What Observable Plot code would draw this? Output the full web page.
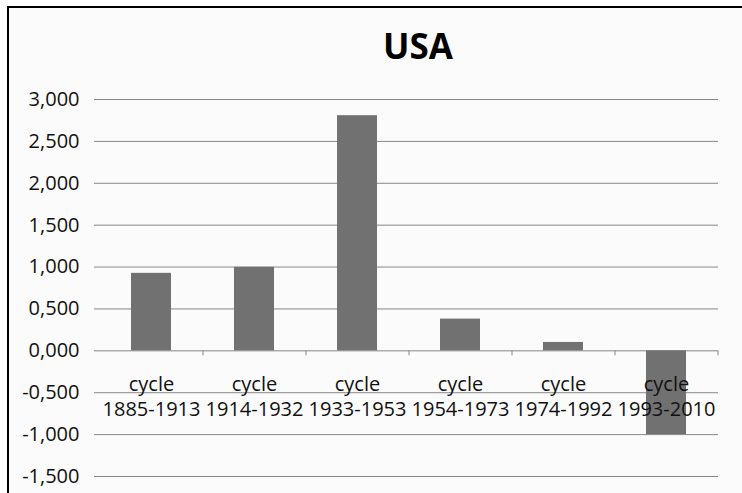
<!DOCTYPE html>
<html>
<head>
<meta charset="utf-8">
<script src="https://cdn.jsdelivr.net/npm/d3@7"></script>
<script src="https://cdn.jsdelivr.net/npm/@observablehq/plot@0.6"></script>
<style>
  html, body { margin: 0; padding: 0; background: #ffffff; }
  #wrap { position: relative; width: 742px; height: 493px; overflow: hidden; }
  #panel { position: absolute; left: 7px; top: 6px; width: 760px; height: 520px;
           border-left: 2px solid #000; border-top: 2px solid #000; background: #fbfbfb; }
  #title { position: absolute; left: 318px; width: 200px; top: 22px; text-align: center;
           font-family: "Open Sans", sans-serif; font-weight: bold; font-size: 35px; line-height: 48px; color: #000; }
  #chart { position: absolute; left: 0; top: 0; }
</style>
</head>
<body>
<div id="wrap">
  <div id="panel"></div>
  <div id="chart"></div>
  <div id="title">USA</div>
</div>
<script>
const categories = ["1885-1913", "1914-1932", "1933-1953", "1954-1973", "1974-1992", "1993-2010"];
const values = [0.925, 0.997, 2.807, 0.379, 0.100, -1.000];
const yTicks = [-1.5, -1.0, -0.5, 0.0, 0.5, 1.0, 1.5, 2.0, 2.5, 3.0];
const labelPrefix = "cycle";

const data = categories.map((c, i) => ({cat: c, value: values[i]}));

const locale = d3.formatLocale({decimal: ",", thousands: ".", grouping: [3], currency: ["", ""], minus: "-"});
const fmt = locale.format(".3f");

const W = 742, H = 493, mL = 100, mR = 24, mT = 99, mB = 17;
const step = (W - mL - mR) / categories.length;
const grid = "#878787";
const font = "'Open Sans', sans-serif";
const fs = 20;

const chart = Plot.plot({
  width: W,
  height: H,
  marginLeft: mL,
  marginRight: mR,
  marginTop: mT,
  marginBottom: mB,
  style: {background: "transparent", fontFamily: font, fontSize: fs + "px", color: "#111"},
  x: {domain: categories, paddingInner: 0.61, paddingOuter: 0.305, axis: null},
  y: {domain: [-1.5, 3.0], axis: null},
  marks: [
    Plot.ruleY(yTicks, {stroke: grid, strokeWidth: 1}),
    Plot.ruleX(categories, {x: d => d, y1: 0, y2: 0, insetBottom: -5, dx: step / 2, stroke: grid}),
    Plot.barY(data, {x: "cat", y: "value", fill: "#717171"}),
    Plot.axisY({ticks: yTicks, tickFormat: fmt, tickSize: 6, tickPadding: 15, line: true,
                stroke: grid, fill: "#111", fontSize: fs, fontFamily: font, label: null}),
    Plot.text(categories, {x: d => d, y: () => 0, text: d => labelPrefix + "\n" + d,
                lineAnchor: "top", dy: 23, lineHeight: 1.23, fontSize: fs, fontFamily: font, fill: "#111"})
  ]
});
document.getElementById("chart").appendChild(chart);
</script>
</body>
</html>
